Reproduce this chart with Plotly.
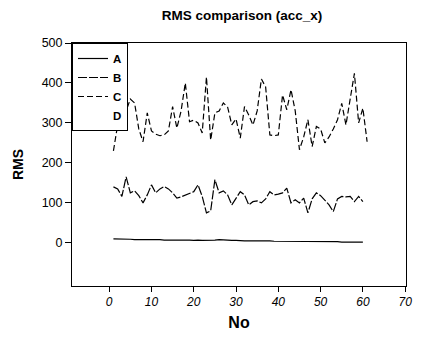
import plotly.graph_objects as go

x_A = list(range(1, 61))
A = [10,10,9,9,9,8,8,8,8,9,8,8,7,7,8,7,7,7,7,6,7,6,6,6,7,8,7,6,6,6,
     5,5,5,5,6,5,5,5,4,4,4,4,4,3,3,4,3,3,3,3,3,3,4,3,2,2,2,2,2,2]
x_B = list(range(1, 61))
B = [140,135,116,165,125,130,118,100,120,145,125,135,141,135,125,112,115,120,125,128,
     145,116,75,80,158,125,130,120,95,110,128,120,95,103,105,100,110,128,120,122,
     125,137,100,108,100,112,75,110,125,118,107,95,78,110,116,115,116,103,116,103]
x_C = list(range(1, 62))
C = [230,295,340,330,360,350,285,253,325,280,272,268,270,280,341,287,330,400,303,307,
     300,275,415,257,325,330,350,340,295,310,262,341,320,295,330,410,390,270,268,270,
     370,333,383,330,233,265,308,241,291,285,250,265,285,308,349,295,360,424,300,337,253]
x_D = [None]
D = [None]

FONT = "Liberation Sans, Arial, sans-serif"

fig = go.Figure()
fig.add_trace(go.Scatter(x=x_A, y=A, name="A", mode="lines",
                         line=dict(color="black", width=1.2)))
fig.add_trace(go.Scatter(x=x_B, y=B, name="B", mode="lines",
                         line=dict(color="black", width=1.2, dash="9px,2px")))
fig.add_trace(go.Scatter(x=x_C, y=C, name="C", mode="lines",
                         line=dict(color="black", width=1.2, dash="6px,3px")))
fig.add_trace(go.Scatter(x=x_D, y=D, name="D", mode="lines",
                         line=dict(color="rgba(0,0,0,0)", width=1.2)))

fig.update_layout(
    width=422, height=345,
    margin=dict(l=72, r=10, t=43, b=59),
    paper_bgcolor="white", plot_bgcolor="white",
    font=dict(family=FONT, color="black", size=12),
    title=dict(text="<b>RMS comparison (acc_x)</b>", x=242/422, xanchor="center",
               y=1 - 15/345, yanchor="middle", font=dict(size=13.5)),
    showlegend=True,
    legend=dict(x=0, y=1, xanchor="left", yanchor="top", bgcolor="white",
                bordercolor="black", borderwidth=1,
                font=dict(size=11.5, weight="bold"), tracegroupgap=0,
                itemwidth=30),
    xaxis=dict(range=[-8.8, 70.2], tickvals=[0,10,20,30,40,50,60,70],
               showgrid=False, zeroline=False, showline=True, linecolor="black",
               linewidth=1, mirror=True, ticks="outside", ticklen=5,
               tickcolor="black", tickfont=dict(size=12, style="italic"),
               title=dict(text="<b>No</b>", font=dict(size=16), standoff=8)),
    yaxis=dict(range=[-108, 500], tickvals=[0,100,200,300,400,500],
               showgrid=False, zeroline=False, showline=True, linecolor="black",
               linewidth=1, mirror=True, ticks="outside", ticklen=6,
               tickcolor="black", tickfont=dict(size=12.5),
               title=dict(text="<b>RMS</b>", font=dict(size=14), standoff=14)),
)

fig.write_html("out.html", config={"displayModeBar": False},
               post_script="document.body.style.margin='0';")
